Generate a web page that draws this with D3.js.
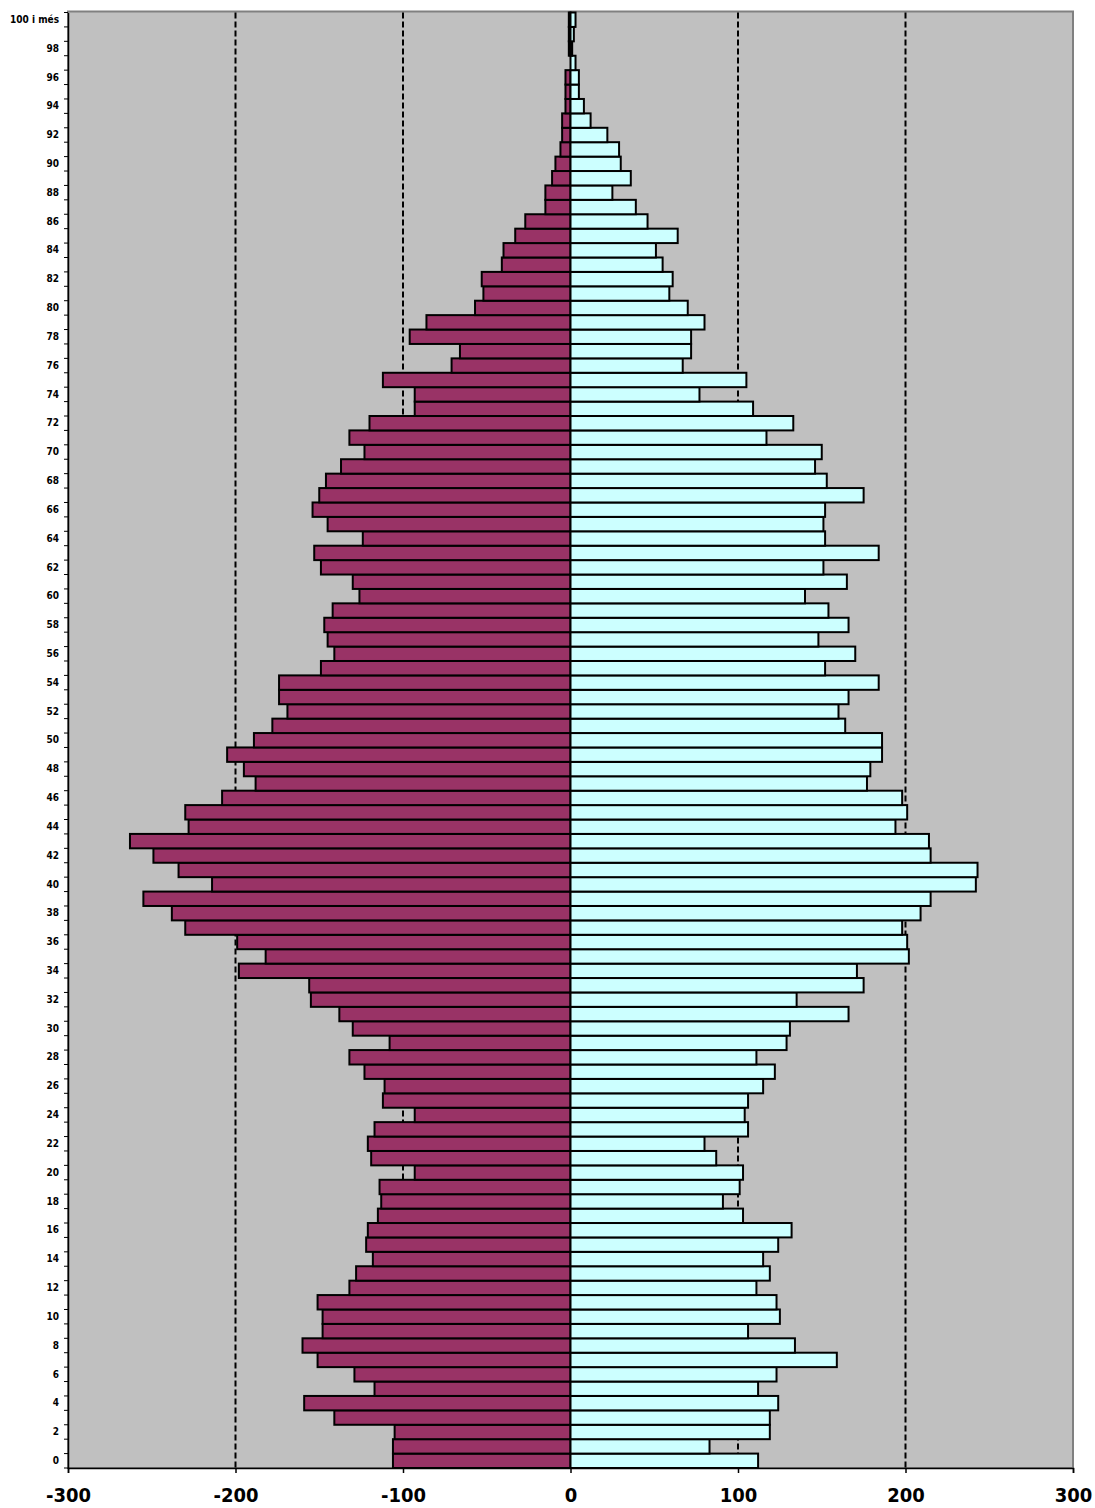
<!DOCTYPE html>
<html>
<head>
<meta charset="utf-8">
<script src="https://cdnjs.cloudflare.com/ajax/libs/d3/7.8.5/d3.min.js"></script>
<style>
  body { margin: 0; background: #ffffff; }
</style>
</head>
<body>
<svg></svg>
<script>
// population by single year of age, 0 .. 100 i més
const ages = d3.range(0, 101);
const men = [
  -106, -106, -105, -141, -159, -117, -129, -151, -160, -148,
  -148, -151, -132, -128, -118, -122, -121, -115, -113, -114,
  -93, -119, -121, -117, -93, -112, -111, -123, -132, -108,
  -130, -138, -155, -156, -198, -182, -199, -230, -238, -255,
  -214, -234, -249, -263, -228, -230, -208, -188, -195, -205,
  -189, -178, -169, -174, -174, -149, -141, -145, -147, -142,
  -126, -130, -149, -153, -124, -145, -154, -150, -146, -137,
  -123, -132, -120, -93, -93, -112, -71, -66, -96, -86,
  -57, -52, -53, -41, -40, -33, -27, -15, -15, -11,
  -9, -6, -5, -5, -3, -3, -3, 0, -1, -1,
  -1
];
const women = [
  112, 83, 119, 119, 124, 112, 123, 159, 134, 106,
  125, 123, 111, 119, 115, 124, 132, 103, 91, 101,
  103, 87, 80, 106, 104, 106, 115, 122, 111, 129,
  131, 166, 135, 175, 171, 202, 201, 198, 209, 215,
  242, 243, 215, 214, 194, 201, 198, 177, 179, 186,
  186, 164, 160, 166, 184, 152, 170, 148, 166, 154,
  140, 165, 151, 184, 152, 151, 152, 175, 153, 146,
  150, 117, 133, 109, 77, 105, 67, 72, 72, 80,
  70, 59, 61, 55, 51, 64, 46, 39, 25, 36,
  30, 29, 22, 12, 8, 5, 5, 3, 1, 2,
  3
];
const ageTicks = d3.range(0, 101, 2);
const xTicks = [-300, -200, -100, 0, 100, 200, 300];
const gridValues = [-200, -100, 100, 200];

const width = 1095, height = 1508;
const plotLeft = 68, plotRight = 1073, plotTop = 12.5, plotBottom = 1468;

let svg = d3.select('svg')
  .attr('width', width)
  .attr('height', height)
  .style('display', 'block');

let x = d3.scaleLinear().domain([-300, 300]).range([plotLeft, plotRight]);
let y = d3.scaleBand().domain(ages.slice().reverse()).range([plotTop, plotBottom]).padding(0);

// plot area
svg.append('rect')
  .attr('x', plotLeft)
  .attr('y', plotTop - 1)
  .attr('width', plotRight - plotLeft)
  .attr('height', plotBottom - plotTop + 1)
  .attr('fill', '#c0c0c0')
  .attr('stroke', '#808080')
  .attr('stroke-width', 2);

svg.selectAll('line.grid')
  .data(gridValues)
  .enter().append('line')
  .attr('class', 'grid')
  .attr('x1', d => x(d))
  .attr('x2', d => x(d))
  .attr('y1', plotTop)
  .attr('y2', plotBottom)
  .attr('stroke', '#000000')
  .attr('stroke-width', 2)
  .attr('stroke-dasharray', '6,3');

let rows = ages.map((a, i) => ({ age: a, m: men[i], w: women[i] }));

svg.selectAll('rect.men')
  .data(rows)
  .enter().append('rect')
  .attr('class', 'men')
  .attr('x', d => x(d.m))
  .attr('y', d => y(d.age))
  .attr('width', d => x(0) - x(d.m))
  .attr('height', y.bandwidth())
  .attr('fill', '#993366')
  .attr('stroke', '#000000')
  .attr('stroke-width', 2);

svg.selectAll('rect.women')
  .data(rows)
  .enter().append('rect')
  .attr('class', 'women')
  .attr('x', x(0))
  .attr('y', d => y(d.age))
  .attr('width', d => x(d.w) - x(0))
  .attr('height', y.bandwidth())
  .attr('fill', '#ccffff')
  .attr('stroke', '#000000')
  .attr('stroke-width', 2);

// left axis
let yAxis = svg.append('g')
  .attr('transform', `translate(${plotLeft},0)`)
  .call(d3.axisLeft(y)
    .tickValues(ageTicks)
    .tickSize(0)
    .tickPadding(9)
    .tickFormat(d => d === 100 ? '100 i més' : d));
yAxis.select('.domain').attr('stroke', '#000000').attr('stroke-width', 1.5);
yAxis.selectAll('text')
  .style('font', 'bold 10px "DejaVu Sans Condensed", "DejaVu Sans", sans-serif')
  .attr('fill', '#000000');

// small marks on every band edge
svg.selectAll('line.ymark')
  .data(d3.range(0, 102))
  .enter().append('line')
  .attr('class', 'ymark')
  .attr('x1', plotLeft - 4)
  .attr('x2', plotLeft)
  .attr('y1', d => plotTop + d * y.step())
  .attr('y2', d => plotTop + d * y.step())
  .attr('stroke', '#000000')
  .attr('stroke-width', 1);

// bottom axis
let xAxis = svg.append('g')
  .attr('transform', `translate(0,${plotBottom})`)
  .call(d3.axisBottom(x)
    .tickValues(xTicks)
    .tickSize(5)
    .tickPadding(15)
    .tickFormat(d3.format('d')));
xAxis.select('.domain').attr('stroke', '#000000').attr('stroke-width', 1.5);
xAxis.selectAll('.tick line').attr('stroke', '#000000').attr('stroke-width', 1.5);
xAxis.selectAll('text')
  .style('font', 'bold 20px "DejaVu Sans Condensed", "DejaVu Sans", sans-serif')
  .attr('fill', '#000000')
  .text(d => d < 0 ? '-' + Math.abs(d) : d);
</script>
</body>
</html>
